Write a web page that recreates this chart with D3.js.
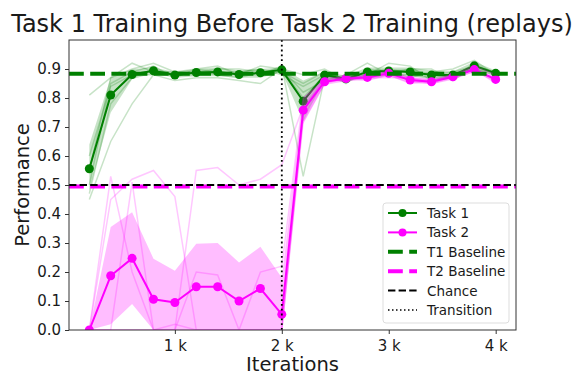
<!DOCTYPE html>
<html>
<head>
<meta charset="utf-8">
<script src="https://cdn.jsdelivr.net/npm/d3@7"></script>
<style>
  body { margin: 0; background: #fff; }
  text { font-family: "DejaVu Sans", sans-serif; fill: #1a1a1a; }
</style>
</head>
<body>
<div class="chart"></div>
<script>
// iterations, one point every 200
var iters = [200, 400, 600, 800, 1000, 1200, 1400, 1600, 1800, 2000,
             2200, 2400, 2600, 2800, 3000, 3200, 3400, 3600, 3800, 4000];

// task 1 (green) mean and band
var t1Mean = [0.556, 0.81, 0.881, 0.894, 0.879, 0.888, 0.89, 0.881, 0.887, 0.897,
              0.789, 0.879, 0.866, 0.89, 0.893, 0.89, 0.879, 0.879, 0.911, 0.885];
var t1Lo = [0.48, 0.75, 0.865, 0.885, 0.87, 0.875, 0.875, 0.87, 0.87, 0.89,
            0.72, 0.865, 0.855, 0.875, 0.88, 0.875, 0.865, 0.868, 0.898, 0.875];
var t1Hi = [0.64, 0.87, 0.90, 0.905, 0.89, 0.90, 0.905, 0.895, 0.90, 0.905,
            0.86, 0.892, 0.877, 0.905, 0.905, 0.905, 0.895, 0.892, 0.925, 0.895];

// task 2 (magenta) mean and band
var t2Mean = [0.0, 0.187, 0.247, 0.106, 0.095, 0.149, 0.149, 0.10, 0.143, 0.054,
              0.758, 0.856, 0.867, 0.871, 0.885, 0.862, 0.856, 0.873, 0.898, 0.864];
var t2Lo = [0.0, 0.02, 0.09, 0.0, 0.0, 0.0, 0.0, 0.0, 0.0, 0.0,
            0.71, 0.845, 0.858, 0.862, 0.875, 0.852, 0.847, 0.863, 0.89, 0.855];
var t2Hi = [0.0, 0.355, 0.406, 0.246, 0.204, 0.297, 0.30, 0.233, 0.287, 0.18,
            0.80, 0.867, 0.876, 0.88, 0.895, 0.872, 0.866, 0.883, 0.906, 0.873];

// individual replay runs
var t1Runs = [
  [0.47, 0.78, 0.87, 0.90, 0.88, 0.89, 0.88, 0.87, 0.89, 0.90, 0.80, 0.88, 0.86, 0.89, 0.90, 0.89, 0.88, 0.87, 0.92, 0.88],
  [0.50, 0.85, 0.89, 0.91, 0.87, 0.90, 0.91, 0.88, 0.88, 0.91, 0.53, 0.87, 0.87, 0.88, 0.92, 0.91, 0.86, 0.88, 0.90, 0.89],
  [0.55, 0.87, 0.90, 0.92, 0.89, 0.89, 0.90, 0.90, 0.89, 0.89, 0.85, 0.89, 0.85, 0.90, 0.89, 0.87, 0.89, 0.90, 0.93, 0.88],
  [0.60, 0.84, 0.88, 0.88, 0.86, 0.87, 0.87, 0.86, 0.85, 0.90, 0.82, 0.86, 0.88, 0.92, 0.88, 0.90, 0.90, 0.86, 0.91, 0.89],
  [0.81, 0.87, 0.92, 0.89, 0.89, 0.90, 0.89, 0.89, 0.90, 0.88, 0.84, 0.88, 0.87, 0.87, 0.88, 0.88, 0.87, 0.88, 0.90, 0.88],
  [0.45, 0.65, 0.78, 0.88, 0.88, 0.88, 0.89, 0.88, 0.91, 0.90, 0.88, 0.90, 0.86, 0.88, 0.89, 0.90, 0.88, 0.89, 0.91, 0.89]
];
var t2Runs = [
  [0.00, 0.45, 0.52, 0.55, 0.46, 0.00, 0.00, 0.00, 0.00, 0.00, 0.74, 0.85, 0.87, 0.86, 0.88, 0.86, 0.85, 0.88, 0.90, 0.86],
  [0.00, 0.00, 0.51, 0.00, 0.00, 0.55, 0.56, 0.50, 0.52, 0.57, 0.77, 0.86, 0.86, 0.88, 0.89, 0.87, 0.85, 0.87, 0.89, 0.87],
  [0.00, 0.53, 0.20, 0.00, 0.02, 0.00, 0.00, 0.00, 0.00, 0.00, 0.72, 0.85, 0.88, 0.87, 0.88, 0.85, 0.86, 0.87, 0.90, 0.86],
  [0.00, 0.00, 0.00, 0.00, 0.00, 0.20, 0.19, 0.00, 0.20, 0.22, 0.80, 0.86, 0.86, 0.87, 0.87, 0.87, 0.86, 0.87, 0.90, 0.85],
  [0.00, 0.00, 0.00, 0.00, 0.00, 0.00, 0.00, 0.00, 0.00, 0.00, 0.76, 0.87, 0.87, 0.87, 0.89, 0.86, 0.86, 0.88, 0.91, 0.88]
];

var t1Base = 0.884, t2Base = 0.495, chance = 0.5, transition = 2000;
var yTicks = [0, 0.1, 0.2, 0.3, 0.4, 0.5, 0.6, 0.7, 0.8, 0.9];
var xTicks = [1000, 2000, 3000, 4000];

var margin = {top: 40, right: 59, bottom: 47, left: 69};
var W = 575, H = 377;
var width = W - margin.left - margin.right,
    height = H - margin.top - margin.bottom;

var x = d3.scaleLinear().domain([10, 4190]).range([0, width]);
var y = d3.scaleLinear().domain([0, 1.0]).range([height, 0]);

var svg = d3.select(".chart").append("svg")
    .attr("width", W).attr("height", H);

svg.append("defs").append("clipPath").attr("id", "clip")
  .append("rect").attr("width", width).attr("height", height);

var g = svg.append("g")
    .attr("transform", "translate(" + margin.left + "," + margin.top + ")");
var plot = g.append("g").attr("clip-path", "url(#clip)");

var line = d3.line()
    .x(function (d, i) { return x(iters[i]); })
    .y(function (d) { return y(d); });

function band(lo, hi, color, op) {
    var a = d3.area()
        .x(function (d, i) { return x(iters[i]); })
        .y0(function (d, i) { return y(lo[i]); })
        .y1(function (d, i) { return y(hi[i]); });
    plot.append("path").attr("d", a(iters))
        .attr("fill", color).attr("fill-opacity", op).attr("stroke", "none");
}

function series(runs, mean, lo, hi, color, op) {
    runs.forEach(function (r) {
        plot.append("path").attr("d", line(r))
            .attr("fill", "none").attr("stroke", color)
            .attr("stroke-opacity", 0.22).attr("stroke-width", 1.5);
    });
    band(lo, hi, color, op);
    plot.append("path").attr("d", line(mean))
        .attr("fill", "none").attr("stroke", color).attr("stroke-width", 2);
    plot.selectAll(null).data(mean).enter().append("circle")
        .attr("cx", function (d, i) { return x(iters[i]); })
        .attr("cy", function (d) { return y(d); })
        .attr("r", 4.5).attr("fill", color);
}

series(t1Runs, t1Mean, t1Lo, t1Hi, "#008000", 0.22);
series(t2Runs, t2Mean, t2Lo, t2Hi, "#ff00ff", 0.26);

// horizontal reference lines
function hline(v, color, w, dash) {
    plot.append("line")
        .attr("x1", 0).attr("x2", width)
        .attr("y1", y(v)).attr("y2", y(v))
        .attr("stroke", color).attr("stroke-width", w)
        .attr("stroke-dasharray", dash);
}
hline(t1Base, "#008000", 4, "14.8,6.4");
hline(t2Base, "#ff00ff", 4, "14.8,6.4");
hline(chance, "#000", 2, "7.4,3.2");

plot.append("line")
    .attr("x1", x(transition)).attr("x2", x(transition))
    .attr("y1", 0).attr("y2", height)
    .attr("stroke", "#000").attr("stroke-width", 1.8)
    .attr("stroke-dasharray", "1.8,3");

// axes
var yAxis = g.append("g")
    .call(d3.axisLeft(y).tickValues(yTicks).tickSize(4).tickPadding(4)
        .tickFormat(d3.format(".1f")));
var xAxis = g.append("g").attr("transform", "translate(0," + height + ")")
    .call(d3.axisBottom(x).tickValues(xTicks).tickSize(4).tickPadding(6)
        .tickFormat(function (d) { return (d / 1000) + " k"; }));
[xAxis, yAxis].forEach(function (a) {
    a.select(".domain").remove();
    a.selectAll(".tick line").attr("stroke", "#333").attr("stroke-width", 1);
    a.selectAll(".tick text").style("font-size", "15px")
        .style("font-family", "DejaVu Sans").attr("fill", "#1a1a1a");
});

g.append("rect").attr("width", width).attr("height", height)
    .attr("fill", "none").attr("stroke", "#333").attr("stroke-width", 1);

// titles
svg.append("text").attr("x", 292).attr("y", 32)
    .attr("text-anchor", "middle").style("font-size", "24px")
    .text("Task 1 Training Before Task 2 Training (replays)");
svg.append("text").attr("x", margin.left + width / 2).attr("y", 371)
    .attr("text-anchor", "middle").style("font-size", "19.5px")
    .text("Iterations");
svg.append("text")
    .attr("transform", "translate(29," + (margin.top + height / 2) + ") rotate(-90)")
    .attr("text-anchor", "middle").style("font-size", "19.5px")
    .text("Performance");

// legend
var leg = svg.append("g").attr("transform", "translate(383,203)");
leg.append("rect").attr("width", 126).attr("height", 120).attr("rx", 3)
    .attr("fill", "#fff").attr("fill-opacity", 0.8)
    .attr("stroke", "#ddd").attr("stroke-width", 1);
var items = [
    {label: "Task 1", color: "#008000", w: 2, dash: null, marker: true},
    {label: "Task 2", color: "#ff00ff", w: 2, dash: null, marker: true},
    {label: "T1 Baseline", color: "#008000", w: 4, dash: "14.8,6.4", marker: false},
    {label: "T2 Baseline", color: "#ff00ff", w: 4, dash: "14.8,6.4", marker: false},
    {label: "Chance", color: "#000", w: 2, dash: "7.4,3.2", marker: false},
    {label: "Transition", color: "#000", w: 1.5, dash: "1.5,2.5", marker: false}
];
items.forEach(function (it, i) {
    var cy = 10 + i * 19.4;
    leg.append("line").attr("x1", 5).attr("x2", 34)
        .attr("y1", cy).attr("y2", cy)
        .attr("stroke", it.color).attr("stroke-width", it.w)
        .attr("stroke-dasharray", it.dash);
    if (it.marker) leg.append("circle").attr("cx", 19.5).attr("cy", cy)
        .attr("r", 4).attr("fill", it.color);
    leg.append("text").attr("x", 44).attr("y", cy + 5)
        .style("font-size", "13.5px").text(it.label);
});
</script>
</body>
</html>
